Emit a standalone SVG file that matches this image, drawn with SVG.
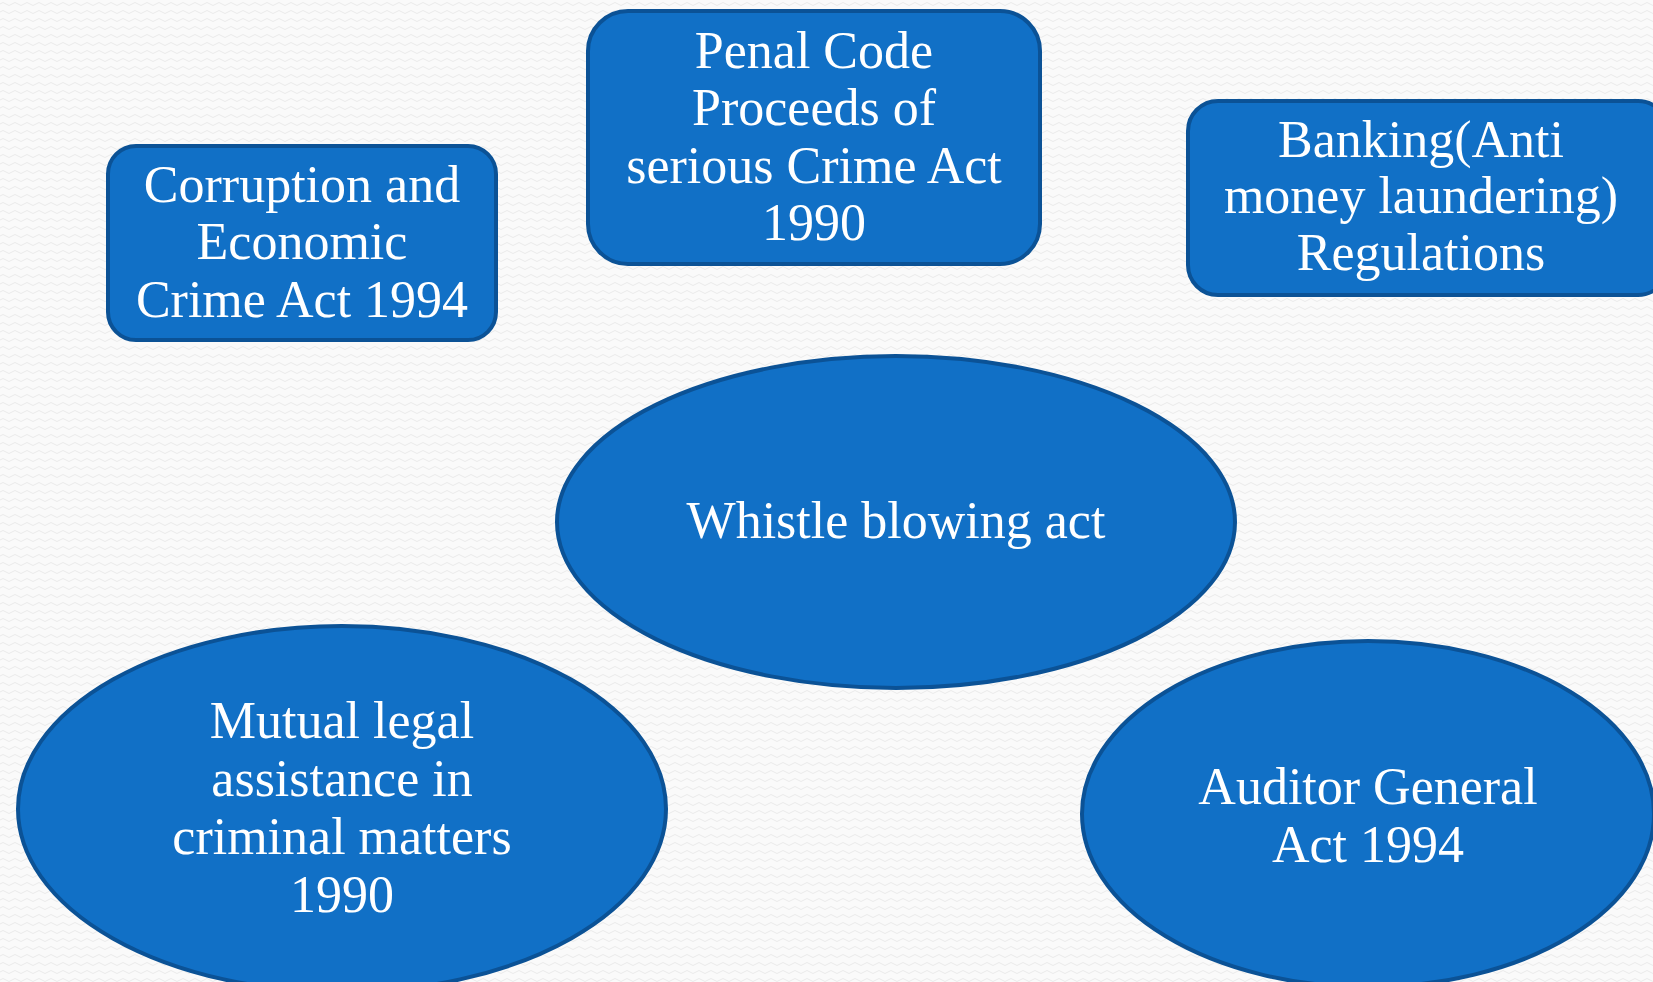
<svg xmlns="http://www.w3.org/2000/svg" width="1653" height="982" viewBox="0 0 1653 982">
<defs>
<pattern id="bg" width="12" height="8" patternUnits="userSpaceOnUse">
<rect width="12" height="8" fill="#FAFAFA"/>
<path d="M0 4 Q3 1 6 4 T12 4" fill="none" stroke="#EBEBEB" stroke-width="1"/>
</pattern>
</defs>
<style>
.shape{fill:#1170C6;stroke:#0B5296;stroke-width:4}
.t{font-family:"Liberation Serif","Times New Roman",serif;font-size:52px;fill:#FFFFFF;text-anchor:middle}
</style>
<rect width="1653" height="982" fill="url(#bg)"/>
<g id="connectors"></g>
<g id="corruption">
<rect class="shape" x="108" y="146" width="388" height="194" rx="28"/>
<text class="t" x="302" y="202">Corruption and</text>
<text class="t" x="302" y="259">Economic</text>
<text class="t" x="302" y="317">Crime Act 1994</text>
</g>
<g id="penal">
<rect class="shape" x="588" y="11" width="452" height="253" rx="40"/>
<text class="t" x="814" y="68">Penal Code</text>
<text class="t" x="814" y="125">Proceeds of</text>
<text class="t" x="814" y="183">serious Crime Act</text>
<text class="t" x="814" y="240">1990</text>
</g>
<g id="banking">
<rect class="shape" x="1188" y="101" width="480" height="194" rx="30"/>
<text class="t" x="1421" y="157">Banking(Anti</text>
<text class="t" x="1421" y="213">money laundering)</text>
<text class="t" x="1421" y="270">Regulations</text>
</g>
<g id="whistle">
<ellipse class="shape" cx="896" cy="522" rx="339" ry="166"/>
<text class="t" x="896" y="538">Whistle blowing act</text>
</g>
<g id="mutual">
<ellipse class="shape" cx="342" cy="809" rx="324" ry="183"/>
<text class="t" x="342" y="738">Mutual legal</text>
<text class="t" x="342" y="796">assistance in</text>
<text class="t" x="342" y="854">criminal matters</text>
<text class="t" x="342" y="912">1990</text>
</g>
<g id="auditor">
<ellipse class="shape" cx="1368" cy="814" rx="286" ry="173"/>
<text class="t" x="1368" y="804">Auditor General</text>
<text class="t" x="1368" y="862">Act 1994</text>
</g>
</svg>
